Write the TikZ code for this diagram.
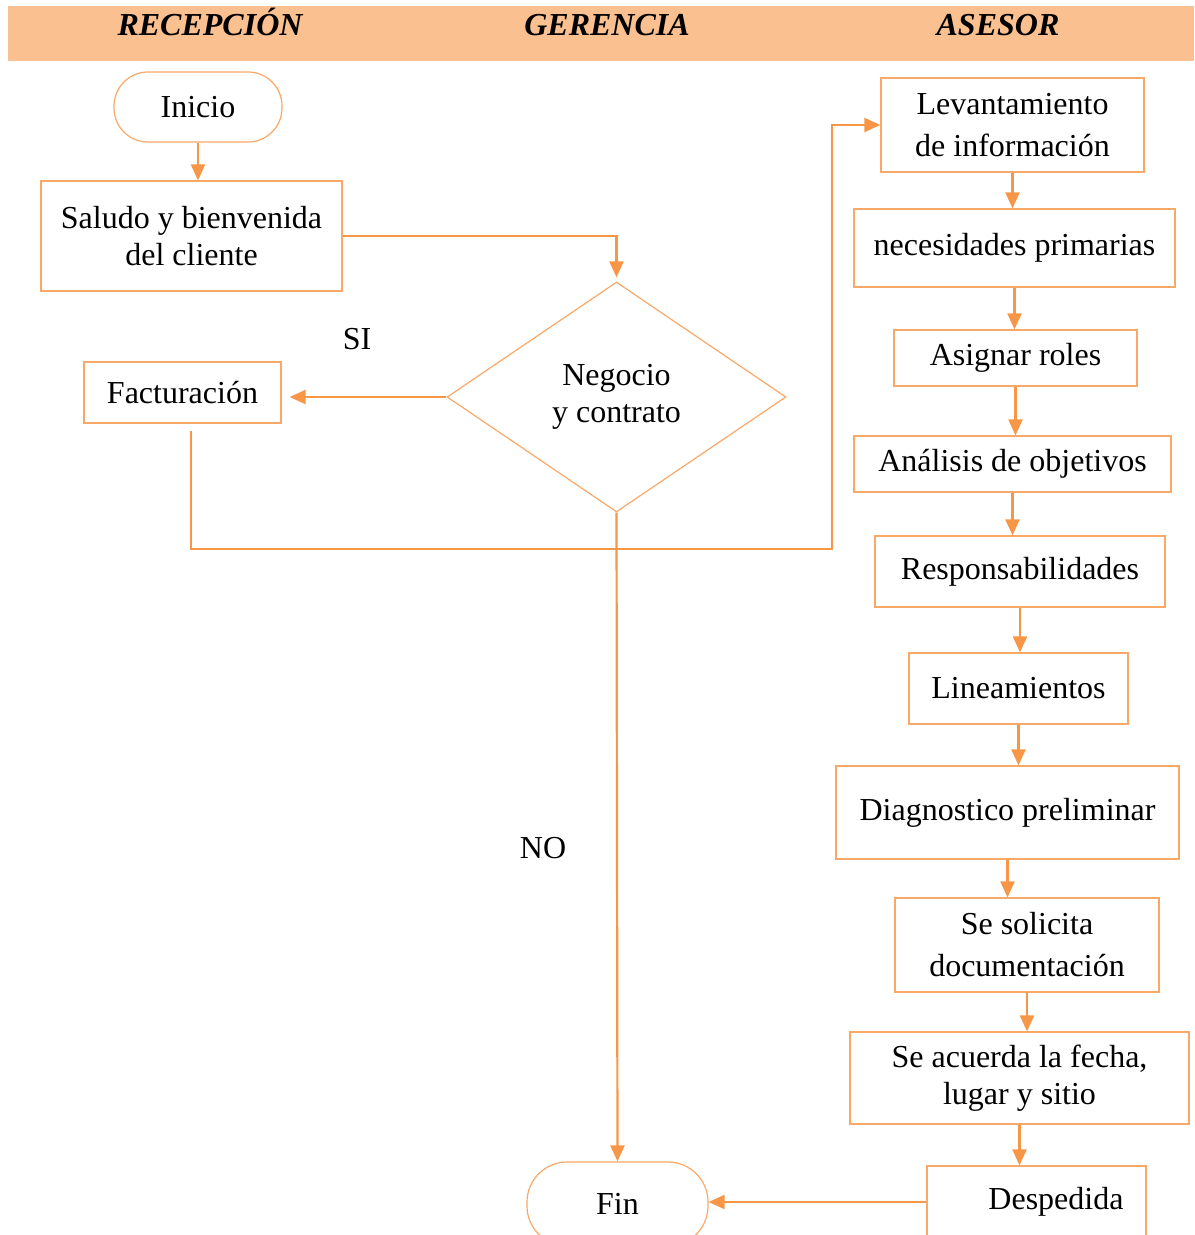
\documentclass[tikz,border=0pt]{standalone}
\usepackage{fontspec}
\setmainfont{Liberation Serif}
\usetikzlibrary{arrows.meta,shapes.geometric,positioning}

\definecolor{bandorange}{HTML}{FAC090}
\definecolor{lineorange}{HTML}{F79646}
\definecolor{boxorange}{HTML}{F9A867}

\begin{document}
\begin{tikzpicture}[x=0.5pt,y=-0.5pt,>={Triangle[length=8pt,width=7pt]},
  proc/.style={draw=boxorange,line width=0.6pt,align=center,inner sep=0pt,
    font=\fontsize{16}{18.5}\selectfont},
  term/.style={proc,rounded corners=17pt},
  decis/.style={proc,diamond,aspect=1.474},
  flow/.style={->,lineorange,line width=1.1pt},
  tag/.style={font=\fontsize{16}{18.5}\selectfont},
  lane/.style={anchor=base,font=\fontsize{16}{18}\selectfont\bfseries\itshape}]

  \useasboundingbox (0,0) rectangle (1194,1235);
  \clip (0,0) rectangle (1194,1235);

  % -- HEADER BAND ----------------------------------------------------
  \fill[bandorange] (8,6) rectangle (1194,61);
  \node[lane] (hrec) at (210,36) {RECEPCIÓN};
  \node[lane] (hger) at (607,36) {GERENCIA};
  \node[lane] (hase) at (998,36) {ASESOR};

  % -- RECEPCION / GERENCIA ------------------------------------------
  \node[term,minimum width=84pt,minimum height=35pt] (ini) at (198,107) {Inicio};
  \node[proc,minimum width=150.5pt,minimum height=55pt] (sal) at (191.5,236)
    {Saludo y bienvenida\\del cliente};
  \node[decis,minimum width=169.5pt,minimum height=115pt] (neg) at (616.5,397)
    {Negocio\\y contrato};
  \node[proc,minimum width=98.5pt,minimum height=30.5pt] (fac) at (182.5,392.5) {Facturación};
  \node[term,rounded corners=20pt,minimum width=90.5pt,minimum height=42pt] (fin) at (617.5,1204) {Fin};

  \node[tag] (si) at (357,339) {SI};
  \node[tag] (no) at (543,848) {NO};

  % -- ASESOR --------------------------------------------------------
  \node[proc,minimum width=131.5pt,minimum height=47pt] (lev) at (1012.5,125)
    {Levantamiento\\[2.5pt]de información};
  \node[proc,minimum width=160.5pt,minimum height=39pt] (nec) at (1014.5,248) {necesidades primarias};
  \node[proc,minimum width=121.5pt,minimum height=28pt] (asi) at (1015.5,358) {Asignar roles};
  \node[proc,minimum width=158.5pt,minimum height=28pt] (ana) at (1012.5,464) {Análisis de objetivos};
  \node[proc,minimum width=145pt,minimum height=35.5pt] (res) at (1020,571.5) {Responsabilidades};
  \node[proc,minimum width=109.5pt,minimum height=35.5pt] (lin) at (1018.5,688.5) {Lineamientos};
  \node[proc,minimum width=171.5pt,minimum height=46.5pt] (dia) at (1007.5,812.5) {Diagnostico preliminar};
  \node[proc,minimum width=132pt,minimum height=47pt] (sol) at (1027,945)
    {Se solicita\\[2.5pt]documentación};
  \node[proc,minimum width=169.5pt,minimum height=46pt] (acu) at (1019.5,1078)
    {Se acuerda la fecha,\\lugar y sitio};
  \node[proc,minimum width=109.5pt,minimum height=36pt] (des) at (1036.5,1202)
    {\hspace*{19.5pt}Despedida};

  % -- CONNECTORS ----------------------------------------------------
  \draw[flow] (ini.south) -- (ini.south |- sal.north);
  \draw[flow] (sal.east) -| ([yshift=2pt]neg.north);
  \draw[flow,shorten >=4pt] (neg.west) -- (neg.west -| fac.east);
  \coordinate (fac-down) at (191,549);
  \coordinate (loop-up) at (832,549);
  \draw[flow] ([yshift=-3.5pt]fac.south -| fac-down) -- (fac-down) -- (loop-up) |- (lev.west);
  \draw[flow] (neg.south) -- (fin.north);

  \foreach \a/\b in {lev/nec,nec/asi,asi/ana,ana/res,res/lin,lin/dia,dia/sol,sol/acu,acu/des}
    \draw[flow] (\a.south) -- (\a.south |- \b.north);

  \draw[flow] (des.west) -- (des.west -| fin.east);

\end{tikzpicture}
\end{document}
